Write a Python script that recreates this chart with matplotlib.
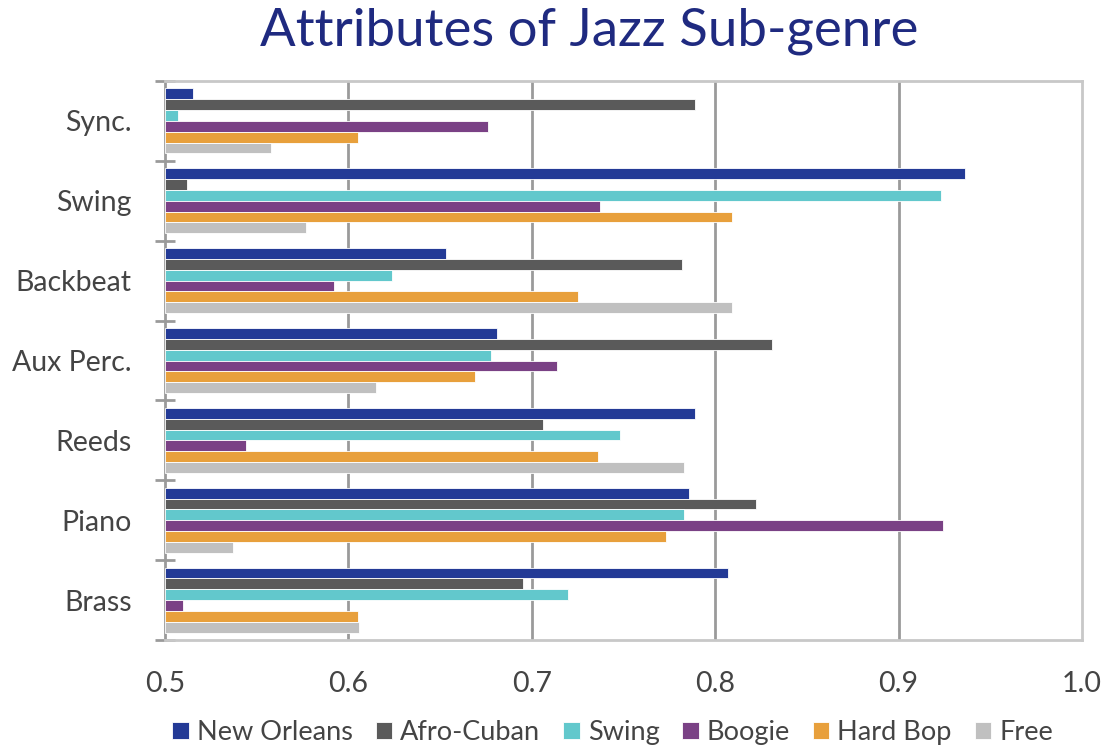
import matplotlib
matplotlib.use("Agg")
import matplotlib.pyplot as plt
import numpy as np

plt.rcParams['font.family'] = ['Lato', 'DejaVu Sans']

categories = ["Sync.", "Swing", "Backbeat", "Aux Perc.", "Reeds", "Piano", "Brass"]
series_names = ["New Orleans", "Afro-Cuban", "Swing", "Boogie", "Hard Bop", "Free"]
colors = ["#233a96", "#5a5a5a", "#62c8cc", "#7a4185", "#e8a03c", "#c0c0c0"]

# one list per sub-genre, values follow the category order above
new_orleans = [0.515, 0.936, 0.653, 0.681, 0.789, 0.786, 0.807]
afro_cuban = [0.789, 0.512, 0.782, 0.831, 0.706, 0.822, 0.695]
swing = [0.507, 0.923, 0.624, 0.678, 0.748, 0.783, 0.720]
boogie = [0.676, 0.737, 0.592, 0.714, 0.544, 0.924, 0.510]
hard_bop = [0.605, 0.809, 0.725, 0.669, 0.736, 0.773, 0.605]
free = [0.558, 0.577, 0.809, 0.615, 0.783, 0.537, 0.606]
all_series = [new_orleans, afro_cuban, swing, boogie, hard_bop, free]

x_ticks = [0.5, 0.6, 0.7, 0.8, 0.9, 1.0]

fig = plt.figure(figsize=(11.04, 7.47), dpi=100)
ax = fig.add_axes([0.1495, 0.1432, 0.8305, 0.7484])

y = np.arange(len(categories))
bar_h = 0.136
for i, (vals, name, col) in enumerate(zip(all_series, series_names, colors)):
    offs = (i - 2.5) * bar_h
    ax.barh(y + offs, np.array(vals) - 0.5, left=0.5, height=bar_h,
            color=col, edgecolor="white", linewidth=0.6, label=name, zorder=3)

ax.set_xlim(0.5, 1.0)
ax.set_ylim(len(categories) - 0.5, -0.5)

# gridlines only inside the frame
for xv in x_ticks[1:-1]:
    ax.axvline(xv, color="#9a9a9a", lw=2, zorder=1)

ax.set_xticks(x_ticks)
ax.set_xticklabels([f"{v:.1f}" for v in x_ticks], fontsize=20.5, color="#444444")
ax.tick_params(axis="x", length=0, pad=22)

ax.set_yticks(y)
ax.set_yticklabels(categories, fontsize=20.5, color="#444444")
ax.tick_params(axis="y", which="major", length=0, pad=24)
ax.set_yticks(np.arange(-0.5, len(categories)), minor=True)
ax.tick_params(axis="y", which="minor", length=14, width=2, direction="inout",
               color="#9a9a9a")

for side in ["top", "right", "bottom"]:
    ax.spines[side].set_color("#c8c8c8")
    ax.spines[side].set_linewidth(2)
ax.spines["left"].set_color("#9a9a9a")
ax.spines["left"].set_linewidth(2)

fig.suptitle("Attributes of Jazz Sub-genre", fontsize=38, color="#1f2a80",
             x=0.534, y=0.99, va="top")

fig.legend(loc="center", bbox_to_anchor=(0.555, 0.019), ncol=6, frameon=False,
           fontsize=19.5, handlelength=0.6, handleheight=0.6, handletextpad=0.3,
           columnspacing=0.85, labelcolor="#444444")

fig.savefig("out.png", dpi=100)
